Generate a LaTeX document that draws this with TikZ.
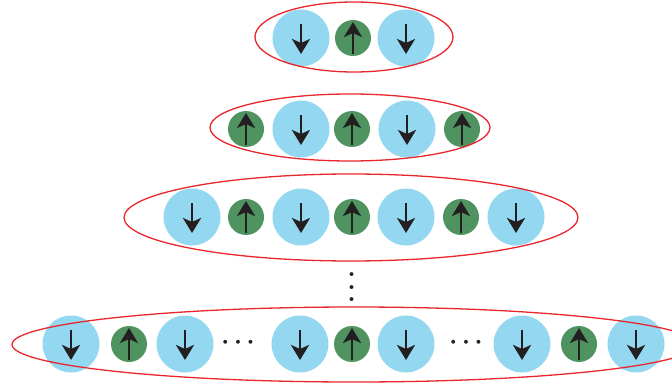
\documentclass[tikz,border=0pt]{standalone}
\usetikzlibrary{arrows.meta}
\definecolor{spinblue}{HTML}{93D7F0}
\definecolor{spingreen}{HTML}{4F9361}
\definecolor{ringred}{HTML}{E8262B}
\definecolor{ink}{HTML}{231F20}
\tikzset{
  spinarrow/.style={draw=ink, line width=2.8pt, -{Stealth[length=15pt,width=18pt,inset=4pt]}},
  dnspin/.style={circle, fill=spinblue, minimum size=57pt, inner sep=0pt,
    path picture={\draw[spinarrow] ([yshift=14pt]path picture bounding box.center) -- ([yshift=-16pt]path picture bounding box.center);}},
  upspin/.style={circle, fill=spingreen, minimum size=36pt, inner sep=0pt,
    path picture={\draw[spinarrow] ([yshift=-16pt]path picture bounding box.center) -- ([yshift=16pt]path picture bounding box.center);}},
  ring/.style={draw=ringred, line width=1.3pt},
  hdots/.style={text=ink, inner sep=0pt, font=\fontsize{25}{30}\selectfont\boldmath},
}
\begin{document}
\begin{tikzpicture}[x=1pt,y=-1pt]
\useasboundingbox (0,0) rectangle (672,385);
\clip (0,0) rectangle (672,385);
% row 1
\node[dnspin] (a1) at (301,38) {};
\node[upspin] (a2) at (353,38) {};
\node[dnspin] (a3) at (406,38) {};
\draw[ring] (354,37) ellipse [x radius=99, y radius=35];
% row 2
\node[upspin] (b1) at (246,129) {};
\node[dnspin] (b2) at (301,129) {};
\node[upspin] (b3) at (352,129) {};
\node[dnspin] (b4) at (407,129) {};
\node[upspin] (b5) at (462,129) {};
\draw[ring] (350,127.5) ellipse [x radius=140, y radius=33.5];
% row 3
\node[dnspin] (c1) at (192,217) {};
\node[upspin] (c2) at (246,217) {};
\node[dnspin] (c3) at (301,217) {};
\node[upspin] (c4) at (352,217) {};
\node[dnspin] (c5) at (406,217) {};
\node[upspin] (c6) at (461,217) {};
\node[dnspin] (c7) at (516,217) {};
\draw[ring] (351,217.5) ellipse [x radius=227, y radius=43.5];
% vertical dots
\node[hdots, rotate=90] (vd) at (352,287) {$\cdots$};
% row 4
\node[dnspin] (d1) at (71,344) {};
\node[upspin] (d2) at (129,344) {};
\node[dnspin] (d3) at (185,344) {};
\node[hdots] (d4) at (238,343) {$\cdots$};
\node[dnspin] (d5) at (300,344) {};
\node[upspin] (d6) at (352,344) {};
\node[dnspin] (d7) at (406,344) {};
\node[hdots] (d8) at (466,343) {$\cdots$};
\node[dnspin] (d9) at (522,344) {};
\node[upspin] (d10) at (579,344) {};
\node[dnspin] (d11) at (636,344) {};
\draw[ring] (354,344.5) ellipse [x radius=342, y radius=37.5];
\end{tikzpicture}
\end{document}
